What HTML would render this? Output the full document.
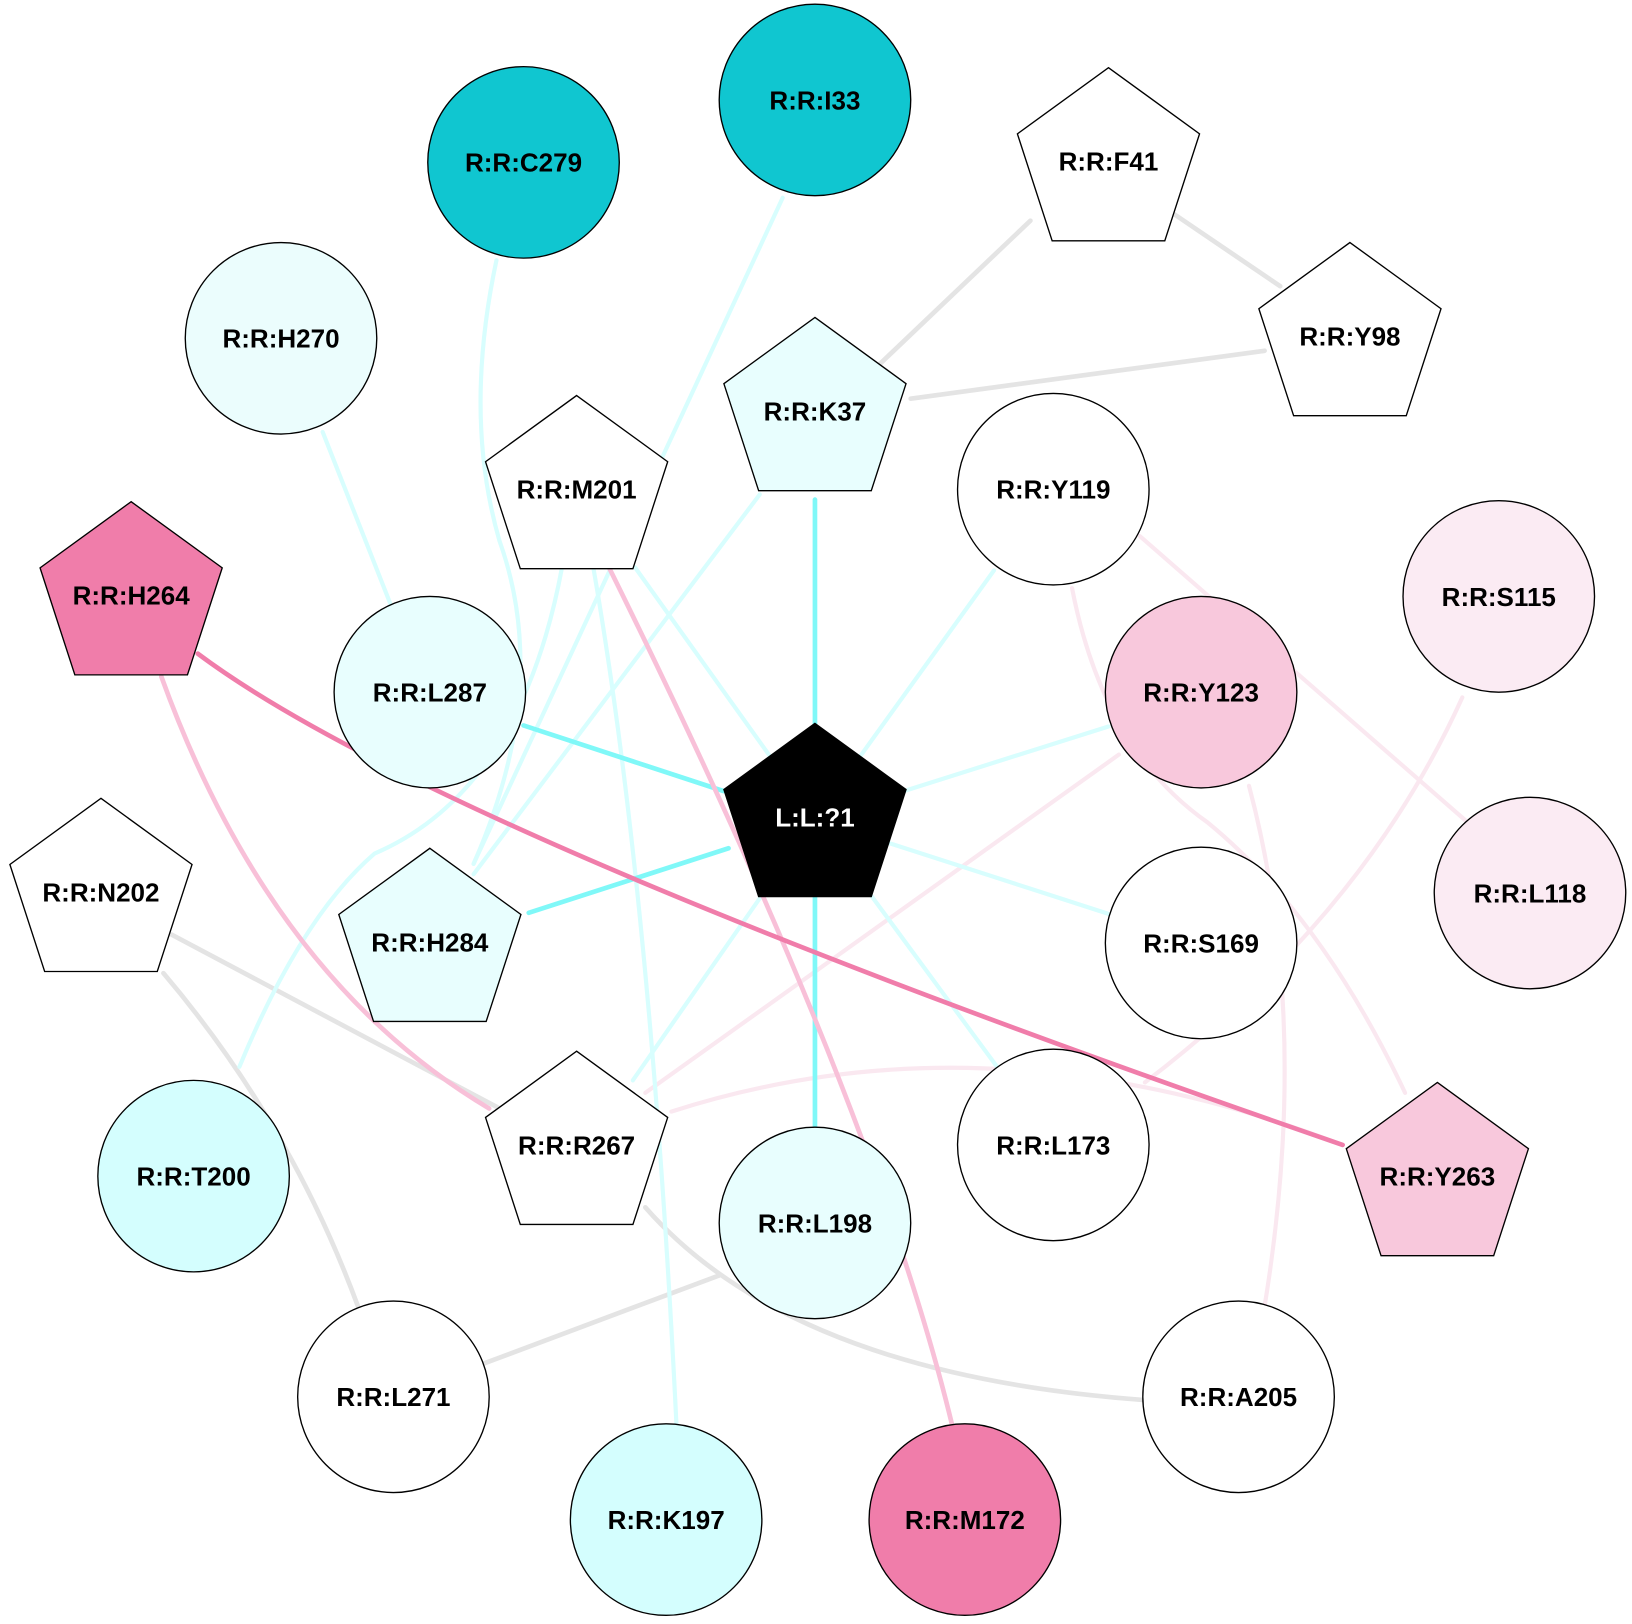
<!DOCTYPE html>
<html><head><style>html,body{margin:0;padding:0;background:#fff}svg{display:block}</style></head><body>
<svg width="1632" height="1624" viewBox="0 0 1568 1560.3" xmlns="http://www.w3.org/2000/svg" font-family="Liberation Sans, Arial, sans-serif" font-weight="bold" font-size="25">
<g fill="none" stroke-linecap="round">
<g stroke="#e4e4e4" stroke-width="4.5">
<path d="M990 212 L845 350"/>
<path d="M1127 205 L1230 275"/>
<path d="M875 383 L1215 337"/>
<path d="M165 898 L480 1065"/>
<path d="M157 935 Q280 1080 345 1258"/>
<path d="M692 1225 L465 1310"/>
<path d="M620 1160 Q760 1320 1098 1345"/>
</g>
<g stroke="#fae8f0" stroke-width="4">
<path d="M1095 515 L1410 790"/>
<path d="M1030 565 Q1060 720 1160 790 Q1270 880 1350 1050"/>
<path d="M1075 725 L620 1050"/>
<path d="M1200 755 Q1260 980 1215 1255"/>
<path d="M1405 670 Q1310 880 1100 1040"/>
<path d="M645 1068 Q950 970 1290 1100"/>
</g>
<g stroke="#d8fefe" stroke-width="4">
<path d="M783 787 L955 548"/>
<path d="M783 787 L1065 698"/>
<path d="M783 787 L1065 878"/>
<path d="M783 787 L958 1025"/>
<path d="M783 787 L610 545"/>
<path d="M783 787 L608 1038"/>
<path d="M730 475 L455 840"/>
<path d="M752 190 L455 830"/>
<path d="M477 250 Q445 400 480 520 Q530 660 455 830"/>
<path d="M310 415 L375 580"/>
<path d="M540 545 Q500 760 360 820 Q290 880 230 1025"/>
<path d="M570 545 Q625 860 650 1370"/>
</g>
<g stroke="#80f8f8" stroke-width="4.5">
<path d="M783 480 L783 695"/>
<path d="M783 860 L783 1085"/>
<path d="M503 697 L695 760"/>
<path d="M508 877 L700 815"/>
</g>
<path d="M155 650 Q260 940 470 1065" stroke="#f8c0d8" stroke-width="4.5"/>
<path d="M585 545 Q840 1060 915 1370" stroke="#f8c0d8" stroke-width="4.5"/>
<path d="M190 628 Q420 800 1290 1100" stroke="#f07daa" stroke-width="4.5"/>
</g>
<g stroke="#000" stroke-width="1.3">
<circle cx="503" cy="156" r="92" fill="#10c6d0"/>
<circle cx="783" cy="96" r="92" fill="#10c6d0"/>
<circle cx="270" cy="325" r="92" fill="#ebfdfd"/>
<circle cx="1012" cy="470" r="92" fill="#fff"/>
<circle cx="1440" cy="573" r="92" fill="#fbebf3"/>
<circle cx="413" cy="665" r="92" fill="#e8fefe"/>
<circle cx="1154" cy="665" r="92" fill="#f8c8dc"/>
<circle cx="1470" cy="858" r="92" fill="#fbebf3"/>
<circle cx="1154" cy="906" r="92" fill="#fff"/>
<circle cx="1012" cy="1100" r="92" fill="#fff"/>
<circle cx="186" cy="1130" r="92" fill="#d4fefe"/>
<circle cx="783" cy="1175" r="92" fill="#e8fefe"/>
<circle cx="378" cy="1342" r="92" fill="#fff"/>
<circle cx="1190" cy="1342" r="92" fill="#fff"/>
<circle cx="640" cy="1460" r="92" fill="#d4fefe"/>
<circle cx="927" cy="1460" r="92" fill="#f07daa"/>
</g>
<g stroke="#000" stroke-width="1.3">
<polygon transform="translate(1065,157)" points="0,-92 87.5,-28.4 54.1,74.4 -54.1,74.4 -87.5,-28.4" fill="#fff"/>
<polygon transform="translate(1297,325)" points="0,-92 87.5,-28.4 54.1,74.4 -54.1,74.4 -87.5,-28.4" fill="#fff"/>
<polygon transform="translate(783,397)" points="0,-92 87.5,-28.4 54.1,74.4 -54.1,74.4 -87.5,-28.4" fill="#e8fefe"/>
<polygon transform="translate(554,472)" points="0,-92 87.5,-28.4 54.1,74.4 -54.1,74.4 -87.5,-28.4" fill="#fff"/>
<polygon transform="translate(126,574)" points="0,-92 87.5,-28.4 54.1,74.4 -54.1,74.4 -87.5,-28.4" fill="#f07daa"/>
<polygon transform="translate(783,787)" points="0,-92 87.5,-28.4 54.1,74.4 -54.1,74.4 -87.5,-28.4" fill="#000"/>
<polygon transform="translate(97,859)" points="0,-92 87.5,-28.4 54.1,74.4 -54.1,74.4 -87.5,-28.4" fill="#fff"/>
<polygon transform="translate(413,907)" points="0,-92 87.5,-28.4 54.1,74.4 -54.1,74.4 -87.5,-28.4" fill="#e8fefe"/>
<polygon transform="translate(554,1102)" points="0,-92 87.5,-28.4 54.1,74.4 -54.1,74.4 -87.5,-28.4" fill="#fff"/>
<polygon transform="translate(1381,1132)" points="0,-92 87.5,-28.4 54.1,74.4 -54.1,74.4 -87.5,-28.4" fill="#f8c8dc"/>
</g>
<g text-anchor="middle" fill="#000">
<text x="503" y="165">R:R:C279</text>
<text x="783" y="105">R:R:I33</text>
<text x="270" y="334">R:R:H270</text>
<text x="1012" y="479">R:R:Y119</text>
<text x="1440" y="582">R:R:S115</text>
<text x="413" y="674">R:R:L287</text>
<text x="1154" y="674">R:R:Y123</text>
<text x="1470" y="867">R:R:L118</text>
<text x="1154" y="915">R:R:S169</text>
<text x="1012" y="1109">R:R:L173</text>
<text x="186" y="1139">R:R:T200</text>
<text x="783" y="1184">R:R:L198</text>
<text x="378" y="1351">R:R:L271</text>
<text x="1190" y="1351">R:R:A205</text>
<text x="640" y="1469">R:R:K197</text>
<text x="927" y="1469">R:R:M172</text>
<text x="1065" y="164">R:R:F41</text>
<text x="1297" y="332">R:R:Y98</text>
<text x="783" y="404">R:R:K37</text>
<text x="554" y="479">R:R:M201</text>
<text x="126" y="581">R:R:H264</text>
<text x="783" y="794" fill="#fff">L:L:?1</text>
<text x="97" y="866">R:R:N202</text>
<text x="413" y="914">R:R:H284</text>
<text x="554" y="1109">R:R:R267</text>
<text x="1381" y="1139">R:R:Y263</text>
</g>
</svg>
</body></html>
